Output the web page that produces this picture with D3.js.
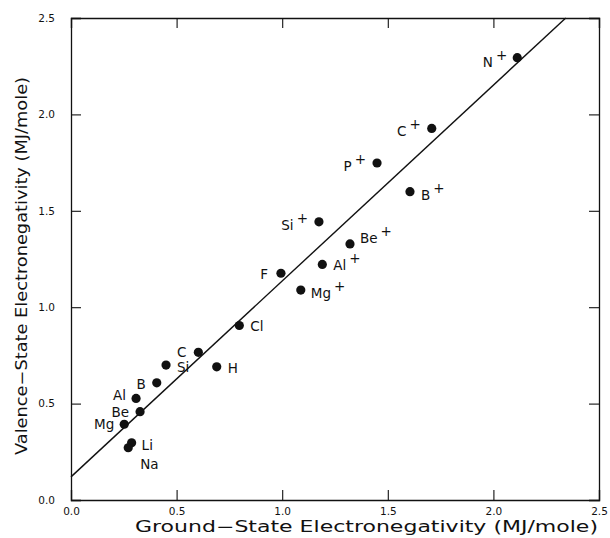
<!DOCTYPE html>
<html>
<head>
<meta charset="utf-8">
<script src="https://cdn.jsdelivr.net/npm/d3@7"></script>
<style>
  body { margin: 0; background: #fff; }
  text { font-family: "DejaVu Sans", sans-serif; fill: #111; }
</style>
</head>
<body>
<div id="chart"></div>
<script>
// values
const elements = ["Li", "Na", "Mg", "Be", "Al", "B", "Si", "C", "H", "Cl", "F",
                  "Mg", "Al", "Be", "Si", "B", "P", "C", "N"];
const charges = ["", "", "", "", "", "", "", "", "", "", "",
                 "+", "+", "+", "+", "+", "+", "+", "+"];
const groundEN = [0.287, 0.271, 0.252, 0.327, 0.308, 0.406, 0.450, 0.603, 0.690, 0.797, 0.994,
                  1.088, 1.190, 1.321, 1.174, 1.605, 1.449, 1.708, 2.113];
const valenceEN = [0.297, 0.271, 0.393, 0.458, 0.527, 0.608, 0.700, 0.766, 0.691, 0.905, 1.176,
                   1.089, 1.222, 1.328, 1.443, 1.599, 1.748, 1.927, 2.294];
const tickValues = [0, 0.5, 1.0, 1.5, 2.0, 2.5];
const fitIntercept = 0.12, fitSlope = 1.016;

// label placement next to each dot: [anchor, dx, dy]
const labelPlace = [
  ["start", 10, 7], ["start", 12, 21], ["end", -10, 5], ["end", -11, 5], ["end", -10, 2],
  ["end", -11, 6], ["start", 11, 7], ["end", -12, 5], ["start", 11, 6], ["start", 11, 5],
  ["end", -13, 6],
  ["start", 10, 8], ["start", 11, 6], ["start", 10, -1], ["end", -11, 8], ["start", 11, 8],
  ["end", -11, 8], ["end", -11, 8], ["end", -10, 9]
];

const fullwidth = 610, fullheight = 538;
const plotLeft = 71, plotRight = 599, plotTop = 18, plotBottom = 500;

const svg = d3.select("#chart").append("svg")
  .attr("width", fullwidth)
  .attr("height", fullheight);

const x = d3.scaleLinear().domain([0, 2.5]).range([plotLeft, plotRight]);
const y = d3.scaleLinear().domain([0, 2.5]).range([plotBottom, plotTop]);

const fmt = d3.format(".1f");

function styleAxis(g) {
  g.attr("font-family", null).attr("font-size", null);
  g.select(".domain").attr("stroke", "#111").attr("stroke-width", 1.3);
  g.selectAll(".tick line").attr("stroke", "#111").attr("stroke-width", 1.1);
  g.selectAll(".tick text").style("font-size", "10.5px");
}

svg.append("g")
  .attr("transform", `translate(0,${plotBottom})`)
  .call(d3.axisBottom(x).tickValues(tickValues).tickSize(-10).tickPadding(8).tickFormat(fmt))
  .call(styleAxis);
svg.append("g")
  .attr("transform", `translate(0,${plotTop})`)
  .call(d3.axisTop(x).tickValues(tickValues).tickSize(-10).tickFormat(""))
  .call(styleAxis);
svg.append("g")
  .attr("transform", `translate(${plotLeft},0)`)
  .call(d3.axisLeft(y).tickValues(tickValues).tickSize(-10).tickPadding(16).tickFormat(fmt))
  .call(styleAxis);
svg.append("g")
  .attr("transform", `translate(${plotRight},0)`)
  .call(d3.axisRight(y).tickValues(tickValues).tickSize(-10).tickFormat(""))
  .call(styleAxis);

// fitted line, clipped to the frame
const xEnd = Math.min(2.5, (2.5 - fitIntercept) / fitSlope);
svg.append("line")
  .attr("x1", x(0)).attr("y1", y(fitIntercept))
  .attr("x2", x(xEnd)).attr("y2", y(fitIntercept + fitSlope * xEnd))
  .attr("stroke", "#111")
  .attr("stroke-width", 1.4);

// dots
svg.selectAll("circle.pt")
  .data(elements)
  .enter().append("circle")
  .attr("class", "pt")
  .attr("cx", (d, i) => x(groundEN[i]))
  .attr("cy", (d, i) => y(valenceEN[i]))
  .attr("r", 4.6)
  .attr("fill", "#111");

// labels
const labels = svg.selectAll("text.lbl")
  .data(elements)
  .enter().append("text")
  .attr("class", "lbl")
  .attr("x", (d, i) => x(groundEN[i]) + labelPlace[i][1])
  .attr("y", (d, i) => y(valenceEN[i]) + labelPlace[i][2])
  .attr("text-anchor", (d, i) => labelPlace[i][0])
  .style("font-size", "13.5px");
labels.append("tspan").text(d => d);
labels.filter((d, i) => charges[i] !== "")
  .append("tspan")
  .attr("dx", 3)
  .attr("dy", -7)
  .text("+");

// axis titles
svg.append("text")
  .attr("x", 135)
  .attr("y", 532)
  .attr("textLength", 463)
  .attr("lengthAdjust", "spacingAndGlyphs")
  .style("font-size", "15px")
  .text("Ground\u2212State Electronegativity (MJ/mole)");

svg.append("text")
  .attr("transform", "translate(27,455) rotate(-90)")
  .attr("textLength", 378)
  .attr("lengthAdjust", "spacingAndGlyphs")
  .style("font-size", "15px")
  .text("Valence\u2212State Electronegativity (MJ/mole)");
</script>
</body>
</html>
